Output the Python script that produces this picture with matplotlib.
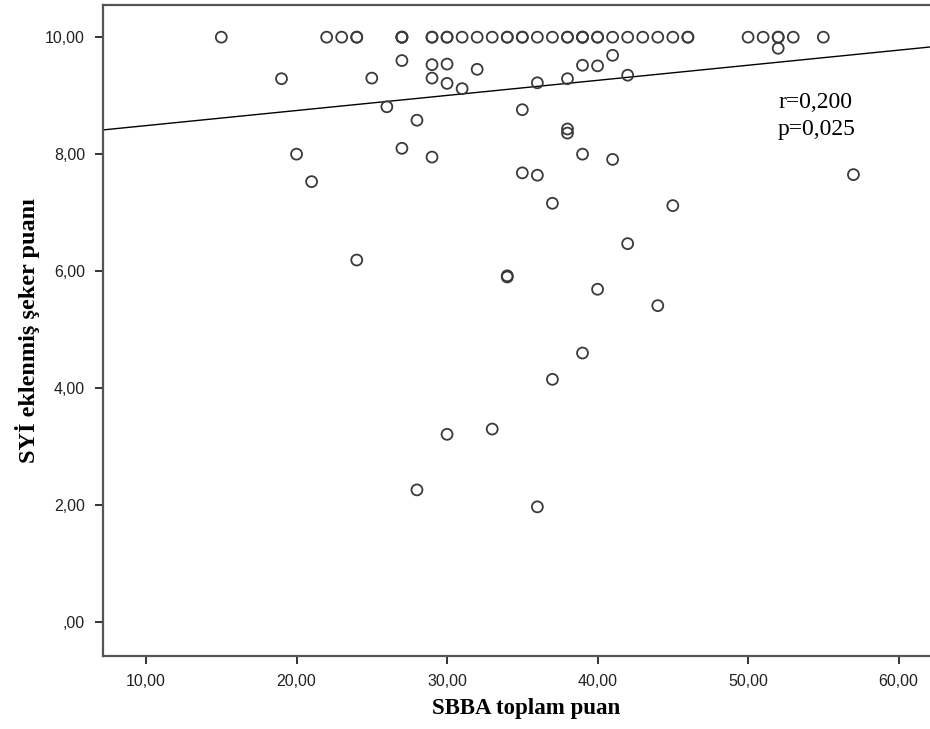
import matplotlib.pyplot as plt
import numpy as np
from matplotlib.ticker import FuncFormatter

# ust sira: SYİ puani 10,00 olanlar (SBBA toplam puan)
top_x = [15, 22, 23, 24, 24, 27, 27, 27, 29, 29, 30, 30, 31, 32, 33, 34, 34,
         35, 35, 36, 37, 38, 38, 39, 39, 39, 40, 40, 41, 42, 43, 44, 45, 46, 46,
         50, 51, 52, 52, 53, 55]
top_y = [10.0] * len(top_x)

# diger noktalar
sbba = [27, 29, 30, 32, 19, 25, 29, 30, 31, 26, 28, 35, 27, 29, 20, 41, 39,
        40, 36, 38, 42, 52, 38, 38, 39, 41, 21, 24, 34, 34, 35, 36, 37, 45,
        57, 42, 40, 44, 39, 37, 30, 33, 28, 36]
syi = [9.60, 9.53, 9.54, 9.45, 9.29, 9.30, 9.30, 9.21, 9.12, 8.81, 8.58, 8.76,
       8.10, 7.95, 8.00, 9.69, 9.52, 9.51, 9.22, 9.29, 9.35, 9.81, 8.43, 8.36,
       8.00, 7.91, 7.53, 6.19, 5.90, 5.92, 7.68, 7.64, 7.16, 7.12, 7.65, 6.47,
       5.69, 5.41, 4.60, 4.15, 3.21, 3.30, 2.26, 1.97]

# dogrusal uyum cizgisi
fit_intercept = 8.23
fit_slope = 0.0258

x_ticks = [10, 20, 30, 40, 50, 60]
y_ticks = [0, 2, 4, 6, 8, 10]

x_all = np.array(top_x + sbba)
y_all = np.array(top_y + syi)

fig = plt.figure(figsize=(9.3, 7.29), dpi=100)
ax = fig.add_axes([103 / 930, 73 / 729, 832 / 930, 651 / 729])

ax.scatter(x_all, y_all, s=62, facecolors='none', edgecolors='#3a3a3a',
           linewidths=1.3, zorder=3)

xlim = (7.14, 62.42)
xs = np.array(xlim)
ax.plot(xs, fit_intercept + fit_slope * xs, color='black', lw=1.0, zorder=2)

ax.set_xlim(*xlim)
ax.set_ylim(-0.58, 10.55)
ax.set_xticks(x_ticks)
ax.set_yticks(y_ticks)

def spss_fmt(v, pos):
    s = f'{v:.2f}'.replace('.', ',')
    if s.startswith('0'):
        s = s[1:]
    return s

ax.xaxis.set_major_formatter(FuncFormatter(spss_fmt))
ax.yaxis.set_major_formatter(FuncFormatter(spss_fmt))

for sp in ax.spines.values():
    sp.set_color('#555555')
    sp.set_linewidth(1.6)
ax.spines['right'].set_visible(False)

ax.tick_params(direction='out', length=6, width=1.4, color='#333333',
               labelsize=11.5, labelcolor='#222222', pad=7)
for lab in ax.get_xticklabels() + ax.get_yticklabels():
    lab.set_family('Liberation Sans')

ax.set_xlabel('SBBA toplam puan', family='Liberation Serif', fontweight='bold',
              fontsize=16.5, labelpad=9)
ax.xaxis.set_label_coords(0.508, -0.065)
ax.set_ylabel('SYİ eklenmiş şeker puanı', family='Liberation Serif',
              fontweight='bold', fontsize=17.5, labelpad=4)

ax.text(778 / 930, 1 - 108 / 729, 'r=0,200', transform=fig.transFigure,
        family='Liberation Serif', fontsize=17, va='baseline', ha='left')
ax.text(778 / 930, 1 - 135 / 729, 'p=0,025', transform=fig.transFigure,
        family='Liberation Serif', fontsize=17, va='baseline', ha='left')

fig.savefig('out.png', dpi=100)
